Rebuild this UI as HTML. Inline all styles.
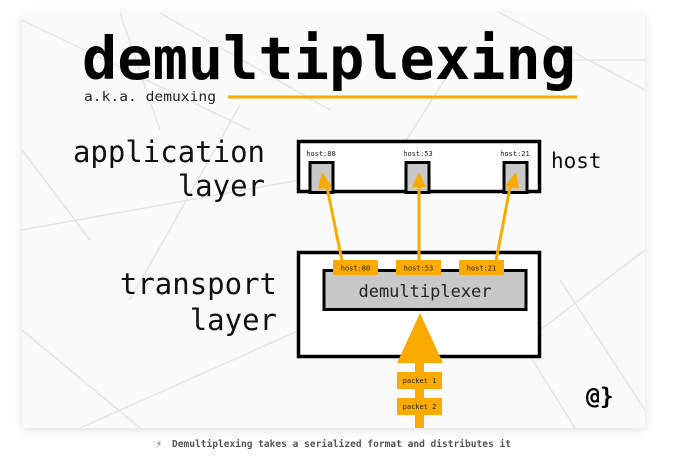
<!DOCTYPE html>
<html><head><style>
body{margin:0;width:673px;height:462px;background:#fff;overflow:hidden;position:relative;font-family:"DejaVu Sans Mono",monospace}
</style></head><body>
<div style="position:absolute;left:22px;top:13px;width:623px;height:415px;background:#fafafa;box-shadow:0 2px 10px rgba(0,0,0,.12)"></div>
<svg width="673" height="462" style="position:absolute;left:0;top:0" font-family="DejaVu Sans Mono, monospace">
<g stroke="#e6e6e6" stroke-width="1.5" fill="none">
<line x1="22" y1="20" x2="250" y2="130"/><line x1="120" y1="13" x2="160" y2="130"/><line x1="160" y1="13" x2="330" y2="110"/>
<line x1="500" y1="13" x2="645" y2="90"/><line x1="560" y1="60" x2="645" y2="60"/><line x1="240" y1="105" x2="130" y2="300"/>
<line x1="22" y1="230" x2="300" y2="180"/><line x1="22" y1="330" x2="140" y2="428"/><line x1="80" y1="428" x2="300" y2="330"/>
<line x1="540" y1="330" x2="645" y2="250"/><line x1="560" y1="280" x2="645" y2="410"/><line x1="520" y1="340" x2="575" y2="428"/>
<line x1="400" y1="150" x2="470" y2="40"/><line x1="22" y1="150" x2="90" y2="240"/>
</g>
<text x="82" y="79" font-size="58.5" font-weight="bold" fill="#000" textLength="494" lengthAdjust="spacingAndGlyphs">demultiplexing</text>
<text x="84" y="101" font-size="13.5" fill="#222" textLength="132" lengthAdjust="spacingAndGlyphs">a.k.a. demuxing</text>
<rect x="228" y="95.5" width="349" height="3" fill="#fbab00"/>
<g font-size="29" fill="#111">
<text x="265" y="162" text-anchor="end">application</text>
<text x="265" y="196" text-anchor="end">layer</text>
<text x="277" y="294" text-anchor="end">transport</text>
<text x="277" y="330" text-anchor="end">layer</text>
<text x="551" y="168" font-size="21">host</text>
</g>
<rect x="298.5" y="141.5" width="241" height="50" fill="#fff" stroke="#000" stroke-width="3.5"/>
<g fill="#c8c8c8" stroke="#000" stroke-width="3">
<rect x="310" y="162.5" width="23" height="30"/><rect x="406" y="162.5" width="23" height="30"/><rect x="504" y="162.5" width="23" height="30"/>
</g>
<g font-size="7" fill="#222" text-anchor="middle">
<text x="321" y="156">host:80</text><text x="418" y="156">host:53</text><text x="515" y="156">host:21</text>
</g>
<rect x="298.5" y="252.5" width="241" height="104" fill="#fff" stroke="#000" stroke-width="3.5"/>
<rect x="324" y="270.5" width="202" height="39" fill="#c8c8c8" stroke="#000" stroke-width="3"/>
<text x="425" y="297" font-size="17" text-anchor="middle" fill="#222">demultiplexer</text>
<g stroke="#fbab00" stroke-width="3" fill="#fbab00">
<line x1="342" y1="261" x2="326" y2="182"/><line x1="419" y1="261" x2="419" y2="182"/><line x1="496" y1="261" x2="511" y2="182"/>
</g>
<g fill="#fbab00">
<polygon points="322,172 332,187 318,189"/><polygon points="419,172 426,187 412,187"/><polygon points="516,172 519,189 505,186"/>
<rect x="333" y="260" width="45" height="15"/><rect x="396" y="260" width="45" height="15"/><rect x="459" y="260" width="45" height="15"/>
<polygon points="420,313 443,363 397,363"/><rect x="415" y="362" width="9" height="66"/>
<rect x="397" y="372" width="45" height="17"/><rect x="397" y="398" width="45" height="17"/>
</g>
<g font-size="7" fill="#222" text-anchor="middle">
<text x="355.5" y="270.5">host:80</text><text x="418.5" y="270.5">host:53</text><text x="481.5" y="270.5">host:21</text>
<text x="419.5" y="383">packet 1</text><text x="419.5" y="409">packet 2</text>
</g>
<text x="586" y="404" font-size="23" font-weight="bold" fill="#000">@}</text>
<text x="156" y="447" font-size="10" fill="#555">⚡</text>
<text x="172" y="447" font-size="9.4" font-weight="bold" fill="#555" textLength="339" lengthAdjust="spacingAndGlyphs">Demultiplexing takes a serialized format and distributes it</text>
</svg>
</body></html>
